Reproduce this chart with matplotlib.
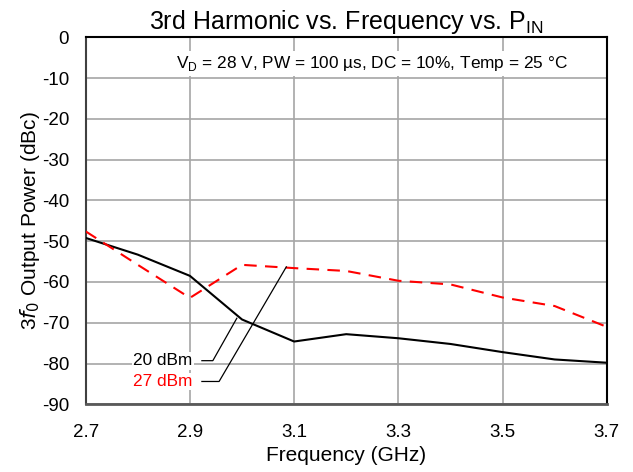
import matplotlib
matplotlib.use("Agg")
import matplotlib.pyplot as plt

plt.rcParams['font.family'] = ['Liberation Sans', 'DejaVu Sans']
plt.rcParams['axes.unicode_minus'] = False

freq = [2.7, 2.8, 2.9, 3.0, 3.1, 3.2, 3.3, 3.4, 3.5, 3.6, 3.7]
p20 = [-49.2, -53.3, -58.5, -69.2, -74.6, -72.8, -73.8, -75.2, -77.2, -79.0, -79.8]
p27 = [-47.6, -55.8, -63.9, -55.8, -56.6, -57.3, -59.7, -60.6, -63.8, -65.9, -71.0]
xticks = [2.7, 2.9, 3.1, 3.3, 3.5, 3.7]
yticks = list(range(-90, 1, 10))

fig = plt.figure(figsize=(6.33, 4.72), dpi=100)
ax = fig.add_axes([0.1354, 0.1434, 0.8231, 0.7776])

ax.plot(freq, p20, color='black', lw=1.5, zorder=3)
ax.plot(freq, p27, color='#FF0000', lw=1.5, ls=(0, (6, 4)), zorder=3)

ax.set_xlim(2.7, 3.7)
ax.set_ylim(-90, 0)
ax.set_xticks(xticks)
ax.set_xticklabels([f"{t:.1f}" for t in xticks])
ax.set_yticks(yticks)
ax.grid(True, color='#A6A6A6', lw=1.2)
ax.set_axisbelow(True)
ax.tick_params(length=0, labelsize=13.5)
ax.tick_params(axis='y', pad=12)
ax.tick_params(axis='x', pad=14)

for s in ['left', 'top', 'right']:
    ax.spines[s].set_color('black')
    ax.spines[s].set_linewidth(1.5)
ax.spines['left'].set_color('#404040')
ax.spines['bottom'].set_color('#595959')
ax.spines['bottom'].set_linewidth(2)

ax.set_xlabel('Frequency (GHz)', fontsize=15, labelpad=4)
ax.set_ylabel(r'3$\it{f}_0$ Output Power (dBc)', fontsize=15, labelpad=0)
ax.set_title(r'3rd Harmonic vs. Frequency vs. P$_{\mathregular{IN}}$', fontsize=18, pad=6)

ax.text(0.55, 0.955, r'V$_{\mathregular{D}}$ = 28 V, PW = 100 µs, DC = 10%, Temp = 25 °C',
        transform=ax.transAxes, ha='center', va='top', fontsize=12.4,
        bbox=dict(facecolor='white', edgecolor='none', pad=2))

# leader annotations
ax.text(2.905, -79.3, '20 dBm', ha='right', va='center', fontsize=12.4, color='black',
        bbox=dict(facecolor='white', edgecolor='none', pad=1))
ax.text(2.905, -84.4, '27 dBm', ha='right', va='center', fontsize=12.4, color='#FF0000',
        bbox=dict(facecolor='white', edgecolor='none', pad=1))
ax.plot([2.923, 2.944, 2.99], [-79.3, -79.3, -68.9], color='black', lw=0.9, zorder=4)
ax.plot([2.923, 2.956, 3.085], [-84.4, -84.4, -56.3], color='black', lw=0.9, zorder=4)

fig.savefig('out.png', dpi=100)
